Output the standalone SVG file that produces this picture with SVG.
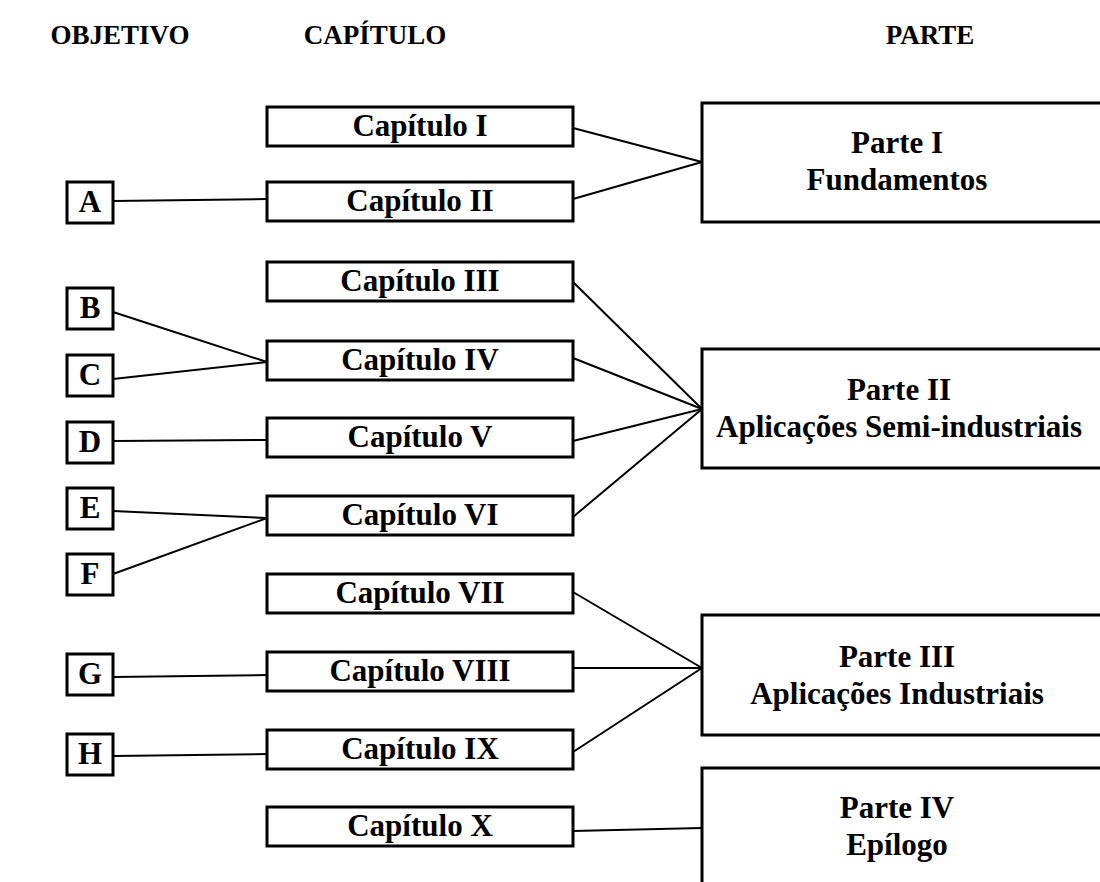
<svg xmlns="http://www.w3.org/2000/svg" width="1100" height="882" viewBox="0 0 1100 882">
  <style>
    .box { fill: #ffffff; stroke: #000000; stroke-width: 3; }
    .lbl { font-family: "Liberation Serif", "Times New Roman", serif; font-weight: bold; font-size: 31px; fill: #000000; text-anchor: middle; }
    .hdr { font-family: "Liberation Serif", "Times New Roman", serif; font-weight: bold; font-size: 27px; fill: #000000; text-anchor: middle; }
    .link { fill: none; stroke: #000000; stroke-width: 2; }
  </style>
  <rect width="1100" height="882" fill="#ffffff"/>

  <!-- column headings -->
  <g id="headings">
    <text class="hdr" x="120" y="44">OBJETIVO</text>
    <text class="hdr" x="375" y="44">CAPÍTULO</text>
    <text class="hdr" x="930" y="44">PARTE</text>
  </g>

  <!-- connectors -->
  <g id="connectors">
    <line class="link" x1="113" y1="201" x2="267" y2="199"/>
    <line class="link" x1="113" y1="312" x2="267" y2="362"/>
    <line class="link" x1="113" y1="379" x2="267" y2="362"/>
    <line class="link" x1="113" y1="441" x2="267" y2="440"/>
    <line class="link" x1="113" y1="511" x2="267" y2="518"/>
    <line class="link" x1="113" y1="574" x2="267" y2="518"/>
    <line class="link" x1="113" y1="677" x2="267" y2="675"/>
    <line class="link" x1="113" y1="756" x2="267" y2="754"/>

    <line class="link" x1="573" y1="128" x2="702" y2="162"/>
    <line class="link" x1="573" y1="199" x2="702" y2="162"/>

    <line class="link" x1="573" y1="282" x2="702" y2="409"/>
    <line class="link" x1="573" y1="358" x2="702" y2="409"/>
    <line class="link" x1="573" y1="441" x2="702" y2="409"/>
    <line class="link" x1="573" y1="517" x2="702" y2="409"/>

    <line class="link" x1="573" y1="592" x2="702" y2="668"/>
    <line class="link" x1="573" y1="668" x2="702" y2="668"/>
    <line class="link" x1="573" y1="752" x2="702" y2="668"/>

    <line class="link" x1="573" y1="831" x2="702" y2="828"/>
  </g>

  <!-- objectives -->
  <g id="obj-A"><rect class="box" x="67" y="182" width="46" height="41"/><text class="lbl" x="90" y="212">A</text></g>
  <g id="obj-B"><rect class="box" x="67" y="288" width="46" height="41"/><text class="lbl" x="90" y="318">B</text></g>
  <g id="obj-C"><rect class="box" x="67" y="355" width="46" height="41"/><text class="lbl" x="90" y="385">C</text></g>
  <g id="obj-D"><rect class="box" x="67" y="422" width="46" height="41"/><text class="lbl" x="90" y="452">D</text></g>
  <g id="obj-E"><rect class="box" x="67" y="488" width="46" height="41"/><text class="lbl" x="90" y="518">E</text></g>
  <g id="obj-F"><rect class="box" x="67" y="554" width="46" height="41"/><text class="lbl" x="90" y="584">F</text></g>
  <g id="obj-G"><rect class="box" x="67" y="654" width="46" height="41"/><text class="lbl" x="90" y="684">G</text></g>
  <g id="obj-H"><rect class="box" x="67" y="734" width="46" height="41"/><text class="lbl" x="90" y="764">H</text></g>

  <!-- chapters -->
  <g id="cap-1"><rect class="box" x="267" y="107" width="306" height="39"/><text class="lbl" x="420" y="136">Capítulo I</text></g>
  <g id="cap-2"><rect class="box" x="267" y="182" width="306" height="39"/><text class="lbl" x="420" y="211">Capítulo II</text></g>
  <g id="cap-3"><rect class="box" x="267" y="262" width="306" height="39"/><text class="lbl" x="420" y="291">Capítulo III</text></g>
  <g id="cap-4"><rect class="box" x="267" y="341" width="306" height="39"/><text class="lbl" x="420" y="370">Capítulo IV</text></g>
  <g id="cap-5"><rect class="box" x="267" y="418" width="306" height="39"/><text class="lbl" x="420" y="447">Capítulo V</text></g>
  <g id="cap-6"><rect class="box" x="267" y="496" width="306" height="39"/><text class="lbl" x="420" y="525">Capítulo VI</text></g>
  <g id="cap-7"><rect class="box" x="267" y="574" width="306" height="39"/><text class="lbl" x="420" y="603">Capítulo VII</text></g>
  <g id="cap-8"><rect class="box" x="267" y="652" width="306" height="39"/><text class="lbl" x="420" y="681">Capítulo VIII</text></g>
  <g id="cap-9"><rect class="box" x="267" y="730" width="306" height="39"/><text class="lbl" x="420" y="759">Capítulo IX</text></g>
  <g id="cap-10"><rect class="box" x="267" y="807" width="306" height="39"/><text class="lbl" x="420" y="836">Capítulo X</text></g>

  <!-- parts -->
  <g id="parte-1">
    <rect class="box" x="702" y="103" width="420" height="119"/>
    <text class="lbl" x="897" y="153">Parte I</text>
    <text class="lbl" x="897" y="190">Fundamentos</text>
  </g>
  <g id="parte-2">
    <rect class="box" x="702" y="349" width="420" height="119"/>
    <text class="lbl" x="899" y="400">Parte II</text>
    <text class="lbl" x="899" y="437">Aplicações Semi-industriais</text>
  </g>
  <g id="parte-3">
    <rect class="box" x="702" y="615" width="420" height="120"/>
    <text class="lbl" x="897" y="667">Parte III</text>
    <text class="lbl" x="897" y="704">Aplicações Industriais</text>
  </g>
  <g id="parte-4">
    <rect class="box" x="702" y="768" width="420" height="140"/>
    <text class="lbl" x="897" y="818">Parte IV</text>
    <text class="lbl" x="897" y="855">Epílogo</text>
  </g>
</svg>
